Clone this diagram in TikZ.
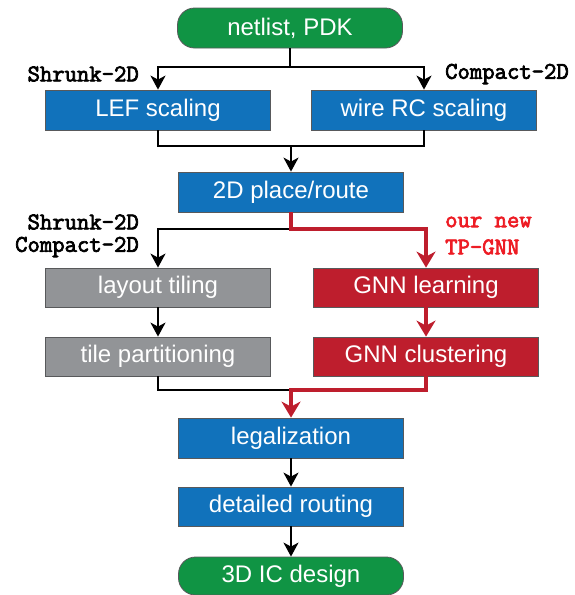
\documentclass[tikz,border=0pt]{standalone}
\usepackage{fontspec}
\setmainfont{Liberation Sans}
\newfontfamily\codefont{Latin Modern Mono}[FakeBold=3]
\usepackage{pgf,tikz}
\usetikzlibrary{arrows.meta}
\definecolor{wqpttt}{rgb}{0.063,0.580,0.267}
\definecolor{wwiebb}{rgb}{0.067,0.447,0.733}
\definecolor{peptpi}{rgb}{0.573,0.580,0.592}
\definecolor{beweed}{rgb}{0.745,0.118,0.176}
\definecolor{edwcet}{rgb}{0.929,0.110,0.141}
\definecolor{zozpzb}{rgb}{0.345,0.349,0.357}

\begin{document}
\begin{tikzpicture}[line cap=butt,line join=miter,x=1.0pt,y=-1.0pt,
  box/.style={draw=zozpzb,line width=0.8pt,text=white,minimum width=225pt,minimum height=40pt,inner sep=0pt,font=\fontsize{24}{28}\selectfont},
  greenbox/.style={box,fill=wqpttt,rounded corners=17pt},
  bluebox/.style={box,fill=wwiebb},
  graybox/.style={box,fill=peptpi},
  redbox/.style={box,fill=beweed},
  wire/.style={line width=2.2pt},
  flow/.style={wire,-{Stealth[length=14pt,width=15pt,inset=4pt]}},
  redwire/.style={line width=3.3pt,draw=beweed},
  redflow/.style={redwire,-{Stealth[length=16pt,width=19pt,inset=5pt]}},
  lbl/.style={font=\fontsize{24}{27}\selectfont\codefont\bfseries,inner sep=0pt},
  redlbl/.style={lbl,text=edwcet}]
\useasboundingbox (0,0) rectangle (574,595);
% boxes
\node[greenbox] (netlist) at (290,28) {netlist, PDK};
\node[bluebox] (lef) at (158,110) {LEF scaling};
\node[bluebox] (wirerc) at (424,110) {wire RC scaling};
\node[bluebox] (place) at (291,192) {2D place/route};
\node[graybox,minimum height=39pt] (tiling) at (158,287.5) {layout tiling};
\node[redbox,minimum height=39pt] (gnnlearn) at (426,287.5) {GNN learning};
\node[graybox,minimum height=39pt] (partition) at (158,356.5) {tile partitioning};
\node[redbox,minimum height=39pt] (gnncluster) at (426,356.5) {GNN clustering};
\node[bluebox] (legal) at (291,438) {legalization};
\node[bluebox,minimum height=39pt] (detailed) at (291,506.5) {detailed routing};
\node[greenbox,minimum height=38pt] (icdesign) at (291,576) {3D IC design};
% labels
\node[lbl,anchor=east] (shrunkA) at (139,74) {Shrunk-2D};
\node[lbl,anchor=west] (compactA) at (445,74) {Compact-2D};
\node[lbl,anchor=east] (shrunkB) at (139,222) {Shrunk-2D};
\node[lbl,anchor=east] (compactB) at (139,247) {Compact-2D};
\node[redlbl,anchor=west] (ournew) at (445,222) {our new};
\node[redlbl,anchor=west] (tpgnn) at (445,247) {TP-GNN};
% connectors
\coordinate (split) at (290,67);
\coordinate (join) at (291,146);
\coordinate (fork) at (291,229);
\coordinate (merge) at (291,390);
\draw[wire] (netlist.south) -- (split);
\draw[flow] (split) -| (lef.north);
\draw[flow] (split) -| (wirerc.north);
\draw[wire] (lef.south) |- (join) -| (wirerc.south);
\draw[flow] (join) -- (place.north);
\draw[flow] (fork) -| (tiling.north);
\draw[redflow] (place.south) -- (fork) -| (gnnlearn.north);
\draw[flow] (tiling) -- (partition);
\draw[redflow] (gnnlearn) -- (gnncluster);
\draw[wire] (partition.south) |- (merge);
\draw[redflow] (gnncluster.south) |- (merge) -- (legal.north);
\draw[flow] (legal) -- (detailed);
\draw[flow] (detailed) -- (icdesign);
\end{tikzpicture}
\end{document}
